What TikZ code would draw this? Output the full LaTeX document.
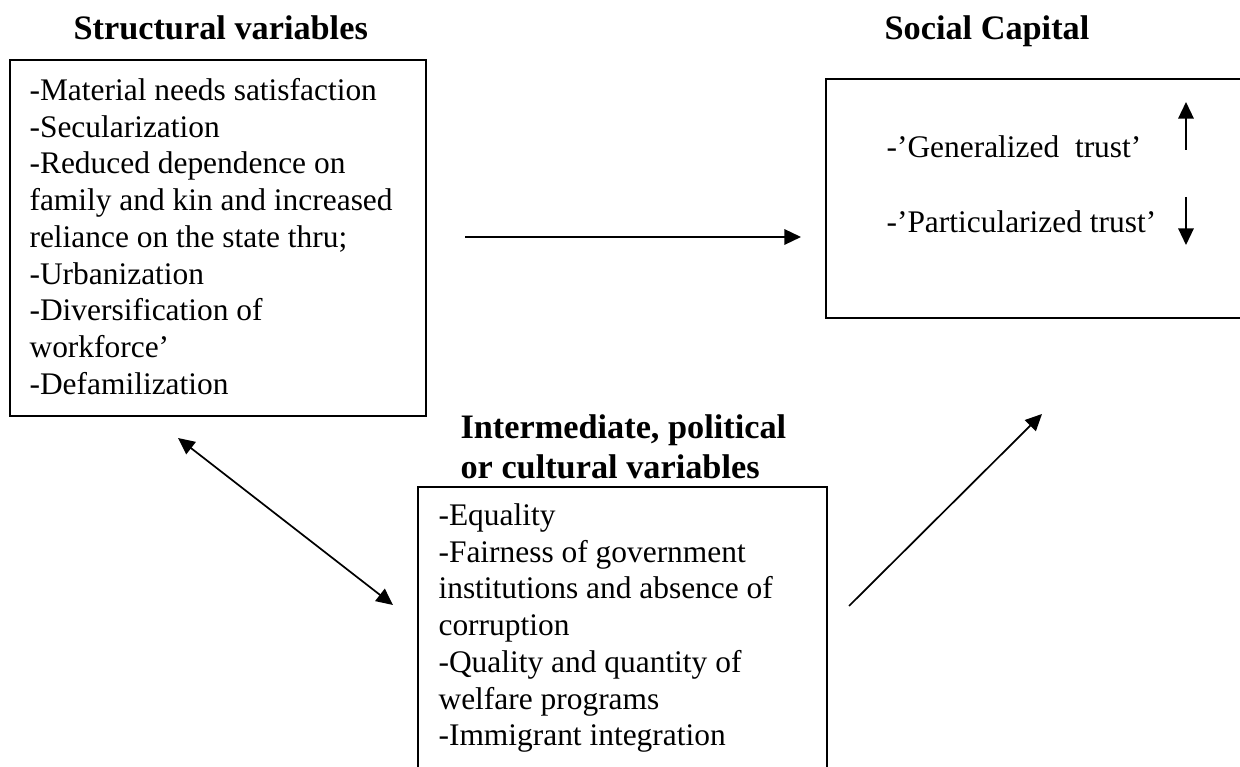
\documentclass[tikz,border=0pt]{standalone}
\usepackage{fontspec}
\setmainfont{Liberation Serif}
\usetikzlibrary{arrows.meta}
\begin{document}
\begin{tikzpicture}[x=0.35pt,y=-0.35pt,
  box/.style={draw, line width=0.7pt, inner sep=0pt, anchor=north west},
  body/.style={anchor=north west, inner sep=0pt, align=left, font=\fontsize{11}{12.85}\selectfont},
  title/.style={anchor=north west, inner sep=0pt, align=left, font=\fontsize{12}{14}\selectfont\bfseries},
  conn/.style={line width=0.6pt, -{Triangle[length=5.8pt,width=5.4pt]}},
  biconn/.style={line width=0.6pt, {Triangle[length=5.8pt,width=5.4pt]}-{Triangle[length=5.8pt,width=5.4pt]}}
  ]
\useasboundingbox (0,0) rectangle (1240,767);
\fill[white] (0,0) rectangle (1240,767);
\begin{scope}
\clip (0,0) rectangle (1240,767);
% boxes
\node[box, minimum width=145.6pt, minimum height=124.6pt] (structbox) at (9,59) {};
\node[box, minimum width=148.75pt, minimum height=83.65pt] (socbox) at (825,78) {};
\node[box, minimum width=143.15pt, minimum height=106.4pt] (interbox) at (417,486) {};
% titles
\node[title] (structtitle) at (73,11) {\strut Structural variables};
\node[title] (soctitle) at (884,11) {\strut Social Capital};
\node[title] (intertitle) at (460,410) {\strut Intermediate, political\\or cultural variables};
% body texts
\node[body] (structtext) at (29,74.3) {\strut-Material needs satisfaction\\-Secularization\\-Reduced dependence on\\family and kin and increased\\reliance on the state thru;\\-Urbanization\\-Diversification of\\workforce’\\-Defamilization};
\node[body] (gentrust) at (886,131.3) {\strut-’Generalized\ \ trust’};
\node[body] (parttrust) at (886,206.3) {\strut-’Particularized trust’};
\node[body] (intertext) at (438,499.3) {\strut-Equality\\-Fairness of government\\institutions and absence of\\corruption\\-Quality and quantity of\\welfare programs\\-Immigrant integration};
% connectors
\coordinate (h1) at (465,237);
\coordinate (h2) at (801,237);
\draw[conn] (h1) -- (h2);
\coordinate (d1) at (178,438);
\coordinate (d2) at (393,605);
\draw[biconn] (d1) -- (d2);
\coordinate (g1) at (849,606);
\coordinate (g2) at (1042,414);
\draw[conn] (g1) -- (g2);
\coordinate (up1) at (1186,150);
\coordinate (up2) at (1186,102);
\draw[conn] (up1) -- (up2);
\coordinate (dn1) at (1186,197);
\coordinate (dn2) at (1186,245);
\draw[conn] (dn1) -- (dn2);
\end{scope}
\end{tikzpicture}
\end{document}
